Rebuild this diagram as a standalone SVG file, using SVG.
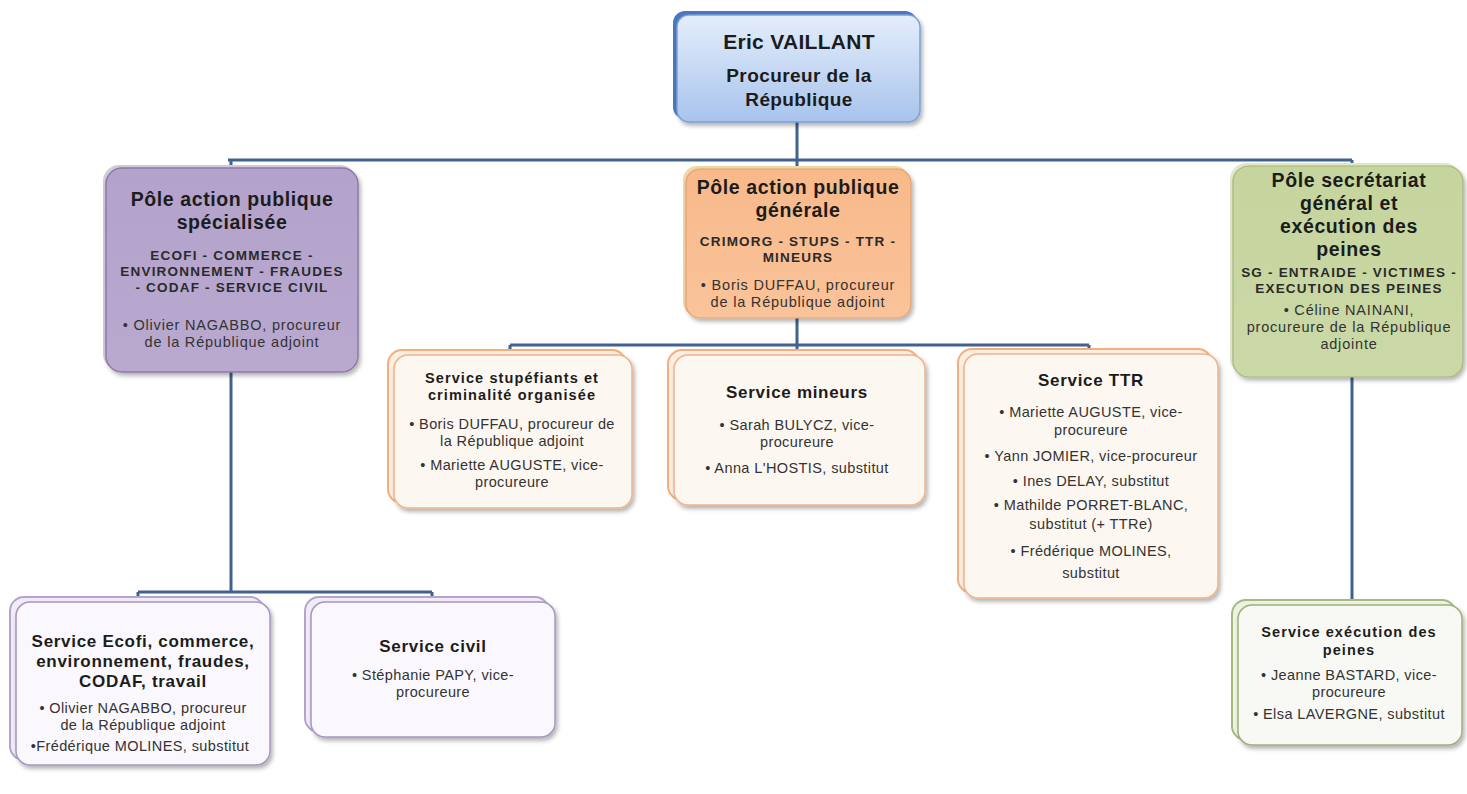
<svg xmlns="http://www.w3.org/2000/svg" width="1467" height="794" viewBox="0 0 1467 794">
<style>
.t{font-family:"Liberation Sans",Arial,sans-serif;text-anchor:middle;fill:#1c1c1c}
.h1{font-size:21px;font-weight:700;letter-spacing:0.3px}
.h1b{font-size:19px;font-weight:700;letter-spacing:0.4px}
.h2{font-size:19.5px;font-weight:700;letter-spacing:0.6px}
.h3{font-size:13.5px;font-weight:700;letter-spacing:1.2px;fill:#2a2a2a}
.sv{font-size:17px;font-weight:700;letter-spacing:0.7px}
.svs{font-size:14.5px;font-weight:700;letter-spacing:1.1px}
.pp{font-size:14.5px;letter-spacing:0.8px;fill:#333}
.p{font-size:14.5px;letter-spacing:0.4px;fill:#333}
.ln{stroke:#41618f;stroke-width:3;fill:none}
</style>
<defs>
<filter id="sh" x="-10%" y="-10%" width="125%" height="125%"><feDropShadow dx="2" dy="3" stdDeviation="2" flood-color="#000" flood-opacity="0.3"/></filter>
<linearGradient id="gBlue" x1="0" y1="0" x2="0" y2="1"><stop offset="0" stop-color="#e4eefb"/><stop offset="1" stop-color="#a8c3ec"/></linearGradient>
<linearGradient id="gPur" x1="0" y1="0" x2="0" y2="1"><stop offset="0" stop-color="#b3a2cb"/><stop offset="1" stop-color="#b9a9cf"/></linearGradient>
<linearGradient id="gOr" x1="0" y1="0" x2="0" y2="1"><stop offset="0" stop-color="#f8b98a"/><stop offset="1" stop-color="#fac39a"/></linearGradient>
<linearGradient id="gGr" x1="0" y1="0" x2="0" y2="1"><stop offset="0" stop-color="#c6d59e"/><stop offset="1" stop-color="#cad9a6"/></linearGradient>
</defs>
<rect width="1467" height="794" fill="#ffffff"/>

<g id="connectors">
<path class="ln" d="M797 122V160M228 160H1352M231 160V168M797 160V168M1352 160V168"/>
<path class="ln" d="M797 318V345M510 345H1089M510 345V351M797 345V351M1089 345V351"/>
<path class="ln" d="M231 372V592M138 592H432M138 592V598M432 592V598"/>
<path class="ln" d="M1352 377V601"/>
</g>

<g id="n-vaillant">
<rect x="673" y="11" width="244" height="108" rx="12" fill="#4a78bf"/>
<rect x="677" y="15" width="243" height="107" rx="12" fill="url(#gBlue)" stroke="#7d9fd4" stroke-width="1.5" filter="url(#sh)"/>
<text class="t h1" x="799" y="49">Eric VAILLANT</text>
<text class="t h1b" x="799" y="82">Procureur de la</text>
<text class="t h1b" x="799" y="106">République</text>
</g>

<g id="n-pole-spec">
<rect x="103" y="165" width="253" height="205" rx="16" fill="#d2cbd8"/>
<rect x="106" y="168" width="252" height="204" rx="16" fill="url(#gPur)" stroke="#8e7aa8" stroke-width="1.5" filter="url(#sh)"/>
<text class="t h2" x="232" y="206">Pôle action publique</text>
<text class="t h2" x="232" y="229">spécialisée</text>
<text class="t h3" x="232" y="260">ECOFI - COMMERCE -</text>
<text class="t h3" x="232" y="276">ENVIRONNEMENT - FRAUDES</text>
<text class="t h3" x="232" y="292">- CODAF - SERVICE CIVIL</text>
<text class="t pp" x="232" y="330">• Olivier NAGABBO, procureur</text>
<text class="t pp" x="232" y="347">de la République adjoint</text>
</g>

<g id="n-pole-gen">
<rect x="683" y="166" width="226" height="150" rx="14" fill="#efd9a6"/>
<rect x="686" y="169" width="225" height="149" rx="14" fill="url(#gOr)" stroke="#e0a070" stroke-width="1.2" filter="url(#sh)"/>
<text class="t h2" x="798" y="194">Pôle action publique</text>
<text class="t h2" x="798" y="217">générale</text>
<text class="t h3" x="798" y="246">CRIMORG - STUPS - TTR -</text>
<text class="t h3" x="798" y="262">MINEURS</text>
<text class="t pp" x="798" y="290">• Boris DUFFAU, procureur</text>
<text class="t pp" x="798" y="307">de la République adjoint</text>
</g>

<g id="n-pole-sg">
<rect x="1230" y="163" width="231" height="211" rx="16" fill="#e1e9cc"/>
<rect x="1233" y="166" width="230" height="211" rx="16" fill="url(#gGr)" stroke="#a5b77a" stroke-width="1.2" filter="url(#sh)"/>
<text class="t h2" x="1349" y="187">Pôle secrétariat</text>
<text class="t h2" x="1349" y="210">général et</text>
<text class="t h2" x="1349" y="233">exécution des</text>
<text class="t h2" x="1349" y="256">peines</text>
<text class="t h3" x="1349" y="277">SG - ENTRAIDE - VICTIMES -</text>
<text class="t h3" x="1349" y="293">EXECUTION DES PEINES</text>
<text class="t pp" x="1349" y="315">• Céline NAINANI,</text>
<text class="t pp" x="1349" y="332">procureure de la République</text>
<text class="t pp" x="1349" y="349">adjointe</text>
</g>

<g id="n-stups">
<rect x="388" y="350" width="238" height="153" rx="14" fill="#fdeee2" stroke="#f2ae7c" stroke-width="2"/>
<rect x="394" y="355" width="238" height="153" rx="14" fill="#fdf7f1" stroke="#f0b48a" stroke-width="1.5" filter="url(#sh)"/>
<text class="t svs" x="512" y="383">Service stupéfiants et</text>
<text class="t svs" x="512" y="400">criminalité organisée</text>
<text class="t p" x="512" y="429">• Boris DUFFAU, procureur de</text>
<text class="t p" x="512" y="446">la République adjoint</text>
<text class="t p" x="512" y="470">• Mariette AUGUSTE, vice-</text>
<text class="t p" x="512" y="487">procureure</text>
</g>

<g id="n-mineurs">
<rect x="668" y="350" width="251" height="150" rx="14" fill="#fdeee2" stroke="#f2ae7c" stroke-width="2"/>
<rect x="674" y="355" width="251" height="150" rx="14" fill="#fdf7f1" stroke="#f0b48a" stroke-width="1.5" filter="url(#sh)"/>
<text class="t sv" x="797" y="398">Service mineurs</text>
<text class="t p" x="797" y="430">• Sarah BULYCZ, vice-</text>
<text class="t p" x="797" y="447">procureure</text>
<text class="t p" x="797" y="473">• Anna L'HOSTIS, substitut</text>
</g>

<g id="n-ttr">
<rect x="958" y="349" width="254" height="244" rx="14" fill="#fdeee2" stroke="#f2ae7c" stroke-width="2"/>
<rect x="964" y="354" width="254" height="244" rx="14" fill="#fdf7f1" stroke="#f0b48a" stroke-width="1.5" filter="url(#sh)"/>
<text class="t sv" x="1091" y="386">Service TTR</text>
<text class="t p" x="1091" y="417">• Mariette AUGUSTE, vice-</text>
<text class="t p" x="1091" y="435">procureure</text>
<text class="t p" x="1091" y="461">• Yann JOMIER, vice-procureur</text>
<text class="t p" x="1091" y="486">• Ines DELAY, substitut</text>
<text class="t p" x="1091" y="510">• Mathilde PORRET-BLANC,</text>
<text class="t p" x="1091" y="529">substitut (+ TTRe)</text>
<text class="t p" x="1091" y="556">• Frédérique MOLINES,</text>
<text class="t p" x="1091" y="578">substitut</text>
</g>

<g id="n-ecofi">
<rect x="10" y="597" width="254" height="163" rx="14" fill="#f1ecf7" stroke="#b4a3cc" stroke-width="2"/>
<rect x="16" y="602" width="254" height="163" rx="14" fill="#faf8fd" stroke="#a895c2" stroke-width="1.5" filter="url(#sh)"/>
<text class="t sv" x="143" y="647">Service Ecofi, commerce,</text>
<text class="t sv" x="143" y="667">environnement, fraudes,</text>
<text class="t sv" x="143" y="687">CODAF, travail</text>
<text class="t p" x="143" y="713">• Olivier NAGABBO, procureur</text>
<text class="t p" x="143" y="730">de la République adjoint</text>
<text class="t p" x="140" y="751">•Frédérique MOLINES, substitut</text>
</g>

<g id="n-civil">
<rect x="305" y="597" width="244" height="135" rx="14" fill="#f1ecf7" stroke="#b4a3cc" stroke-width="2"/>
<rect x="311" y="602" width="244" height="135" rx="14" fill="#faf8fd" stroke="#a895c2" stroke-width="1.5" filter="url(#sh)"/>
<text class="t sv" x="433" y="652">Service civil</text>
<text class="t p" x="433" y="680">• Stéphanie PAPY, vice-</text>
<text class="t p" x="433" y="697">procureure</text>
</g>

<g id="n-exec">
<rect x="1232" y="600" width="224" height="140" rx="14" fill="#eef2e3" stroke="#a8b880" stroke-width="2"/>
<rect x="1238" y="605" width="224" height="140" rx="14" fill="#f8f9f4" stroke="#9fb07a" stroke-width="1.5" filter="url(#sh)"/>
<text class="t svs" x="1349" y="637">Service exécution des</text>
<text class="t svs" x="1349" y="655">peines</text>
<text class="t p" x="1349" y="680">• Jeanne BASTARD, vice-</text>
<text class="t p" x="1349" y="697">procureure</text>
<text class="t p" x="1349" y="719">• Elsa LAVERGNE, substitut</text>
</g>
</svg>
